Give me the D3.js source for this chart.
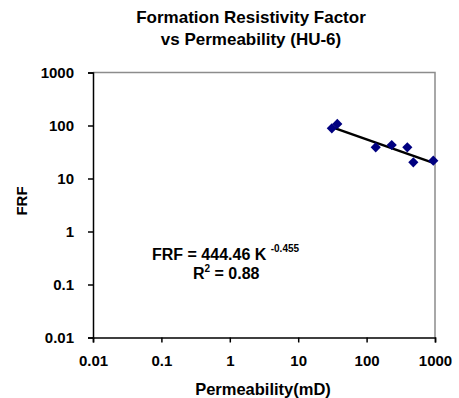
<!DOCTYPE html>
<html>
<head>
<meta charset="utf-8">
<script src="https://cdn.jsdelivr.net/npm/d3@7"></script>
<style>
  body { margin: 0; background: #fff; }
  text { font-family: "Liberation Sans", Arial, sans-serif; fill: #000; }
</style>
</head>
<body>
<script>
// Permeability (mD) and FRF
const permeability = [31, 37.3, 136, 233, 394, 482, 944];
const frf = [88.5, 107, 38.8, 42.9, 38.8, 20.2, 21.7];
const xTicks = [0.01, 0.1, 1, 10, 100, 1000];
const yTicks = [0.01, 0.1, 1, 10, 100, 1000];
// power trend line FRF = a * K^b
const trendCoef = [444.46, -0.455];
const trendRange = [31, 944];

const width = 459, height = 398;
const margin = { top: 72.5, right: 24, bottom: 60.5, left: 93 };

const svg = d3.select('body')
  .append('svg')
  .attr('width', width)
  .attr('height', height);

const x = d3.scaleLog()
  .domain([0.01, 1000])
  .range([margin.left, width - margin.right]);

const y = d3.scaleLog()
  .domain([0.01, 1000])
  .range([height - margin.bottom, margin.top]);

// Title
const title = svg.append('text')
  .attr('text-anchor', 'middle')
  .attr('font-size', 17)
  .attr('font-weight', 'bold');
title.append('tspan').attr('x', 251).attr('y', 23).text('Formation Resistivity Factor');
title.append('tspan').attr('x', 251).attr('y', 45).text('vs Permeability (HU-6)');

// top and right border
svg.append('path')
  .attr('d', `M ${x(0.01)} ${y(1000)} H ${x(1000)} V ${y(0.01)}`)
  .attr('fill', 'none')
  .attr('stroke', '#8c8c8c')
  .attr('stroke-width', 1.5);

// X axis
const xAxis = svg.append('g')
  .attr('transform', `translate(0,${y(0.01)})`)
  .call(d3.axisBottom(x).tickValues(xTicks).tickFormat(d3.format('~g')).tickSizeOuter(0).tickSize(5).tickPadding(10));

// Y axis
const yAxis = svg.append('g')
  .attr('transform', `translate(${x(0.01)},0)`)
  .call(d3.axisLeft(y).tickValues(yTicks).tickFormat(d3.format('~g')).tickSizeOuter(0).tickSize(5).tickPadding(14));

[xAxis, yAxis].forEach(g => {
  g.select('.domain').attr('stroke', '#000').attr('stroke-width', 1.5);
  g.selectAll('.tick line').attr('stroke', '#000').attr('stroke-width', 1.5);
  g.selectAll('.tick text')
    .attr('font-size', 15)
    .attr('font-weight', 'bold')
    .attr('font-family', '"Liberation Sans", Arial, sans-serif')
    .attr('fill', '#000');
});
yAxis.selectAll('.tick text').attr('dy', '0.36em');
xAxis.selectAll('.tick text').attr('dy', '0.9em');

// Axis titles
svg.append('text')
  .attr('x', 263)
  .attr('y', 395)
  .attr('text-anchor', 'middle')
  .attr('font-size', 16.5)
  .attr('font-weight', 'bold')
  .text('Permeability(mD)');

svg.append('text')
  .attr('transform', 'translate(27,201) rotate(-90)')
  .attr('text-anchor', 'middle')
  .attr('font-size', 15)
  .attr('font-weight', 'bold')
  .text('FRF');

// Trend line
const trend = trendRange.map(k => [k, trendCoef[0] * Math.pow(k, trendCoef[1])]);
svg.append('path')
  .datum(trend)
  .attr('d', d3.line().x(d => x(d[0])).y(d => y(d[1])))
  .attr('fill', 'none')
  .attr('stroke', '#000')
  .attr('stroke-width', 2.5);

// Points
const diamond = d3.symbol().type(d3.symbolDiamond2).size(66);
svg.append('g')
  .selectAll('path')
  .data(permeability.map((k, i) => [k, frf[i]]))
  .join('path')
  .attr('d', diamond)
  .attr('transform', d => `translate(${x(d[0])},${y(d[1])})`)
  .attr('fill', '#000080');

// Equation
const eq = svg.append('text')
  .attr('x', 152)
  .attr('y', 260)
  .attr('font-size', 16)
  .attr('font-weight', 'bold');
eq.append('tspan').text('FRF = 444.46 K ');
eq.append('tspan').attr('dy', -8).attr('font-size', 10).text('-0.455');

const r2 = svg.append('text')
  .attr('x', 193)
  .attr('y', 279)
  .attr('font-size', 16)
  .attr('font-weight', 'bold');
r2.append('tspan').text('R');
r2.append('tspan').attr('dy', -7).attr('font-size', 10).text('2');
r2.append('tspan').attr('dy', 7).text(' = 0.88');
</script>
</body>
</html>
